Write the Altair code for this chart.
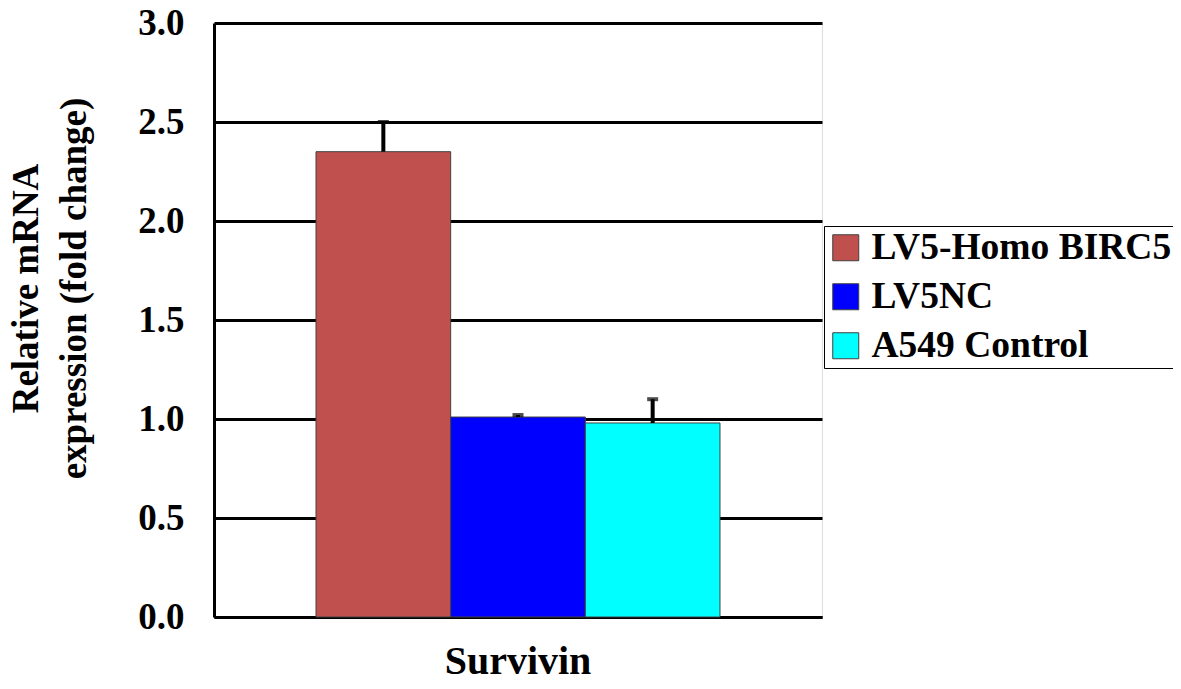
import altair as alt
import pandas as pd

genes = ["Survivin", "Survivin", "Survivin"]
groups = ["LV5-Homo BIRC5", "LV5NC", "A549 Control"]
values = [2.35, 1.01, 0.98]
errors = [0.15, 0.01, 0.12]
colors = ["#C0504D", "#0000FF", "#00FFFF"]
y_ticks = [0.0, 0.5, 1.0, 1.5, 2.0, 2.5, 3.0]

df = pd.DataFrame({"gene": genes, "group": groups, "value": values, "err": errors})

FONT = "Liberation Serif"
PLOT_TOP = 23
PLOT_H = 594

x = alt.X("gene:N", title=None,
          scale=alt.Scale(paddingInner=0, paddingOuter=0.2525),
          axis=alt.Axis(labelFont=FONT, labelFontSize=40, labelFontWeight="bold",
                        labelColor="black", labelAngle=0, ticks=False,
                        labelPadding=24, domainColor="black", domainWidth=3))
xo = alt.XOffset("group:N", sort=groups, scale=alt.Scale(paddingInner=0, paddingOuter=0))

yscale = alt.Scale(domain=[0, 3], nice=False)
yaxis = alt.Axis(values=y_ticks, format=".1f", grid=True, gridColor="black", gridWidth=3,
                 gridOpacity=1, ticks=False, labelFont=FONT, labelFontSize=37,
                 labelFontWeight="bold", labelColor="black", labelPadding=30,
                 domainColor="black", domainWidth=3,
                 title=["Relative mRNA", "expression (fold change)"],
                 titleFont=FONT, titleFontSize=37, titleFontWeight="bold", titleColor="black",
                 titleAngle=270, titleAlign="center", titleBaseline="alphabetic",
                 titleX=-177, titleY=288 - PLOT_TOP, titleLineHeight=48)

base = alt.Chart(df)

bars = base.mark_bar(stroke="#404040", strokeWidth=1).encode(
    x=x, xOffset=xo,
    y=alt.Y("value:Q", scale=yscale, axis=yaxis),
    color=alt.Color("group:N", sort=groups,
                    scale=alt.Scale(domain=groups, range=colors),
                    legend=alt.Legend(title=None, orient="none", legendX=610, legendY=226 - PLOT_TOP,
                                      symbolType="square", symbolSize=676,
                                      symbolStrokeColor="#404040", symbolStrokeWidth=1,
                                      labelFont=FONT, labelFontSize=37.5, labelFontWeight="bold",
                                      labelColor="black", labelOffset=7, rowPadding=10,
                                      strokeColor="black", padding=3, labelLimit=500)),
)

stems = base.mark_rule(color="black", strokeWidth=4).encode(
    x=x, xOffset=xo,
    y=alt.Y("value:Q", scale=yscale),
    y2="top:Q",
).transform_calculate(top="datum.value + datum.err")

caps = base.mark_tick(color="black", thickness=4, size=11).encode(
    x=x, xOffset=xo,
    y=alt.Y("top:Q", scale=yscale),
).transform_calculate(top="datum.value + datum.err")

chart = alt.layer(bars, stems, caps).properties(
    width=608, height=PLOT_H,
    autosize=alt.AutoSizeParams(type="none"),
    padding={"left": 206, "top": PLOT_TOP - 8, "right": 351, "bottom": 673 - (PLOT_TOP - 8) - PLOT_H},
).configure_view(stroke="black", strokeWidth=3).configure(background="white")

chart.save("out.html", embed_options={"renderer": "svg", "actions": False})
